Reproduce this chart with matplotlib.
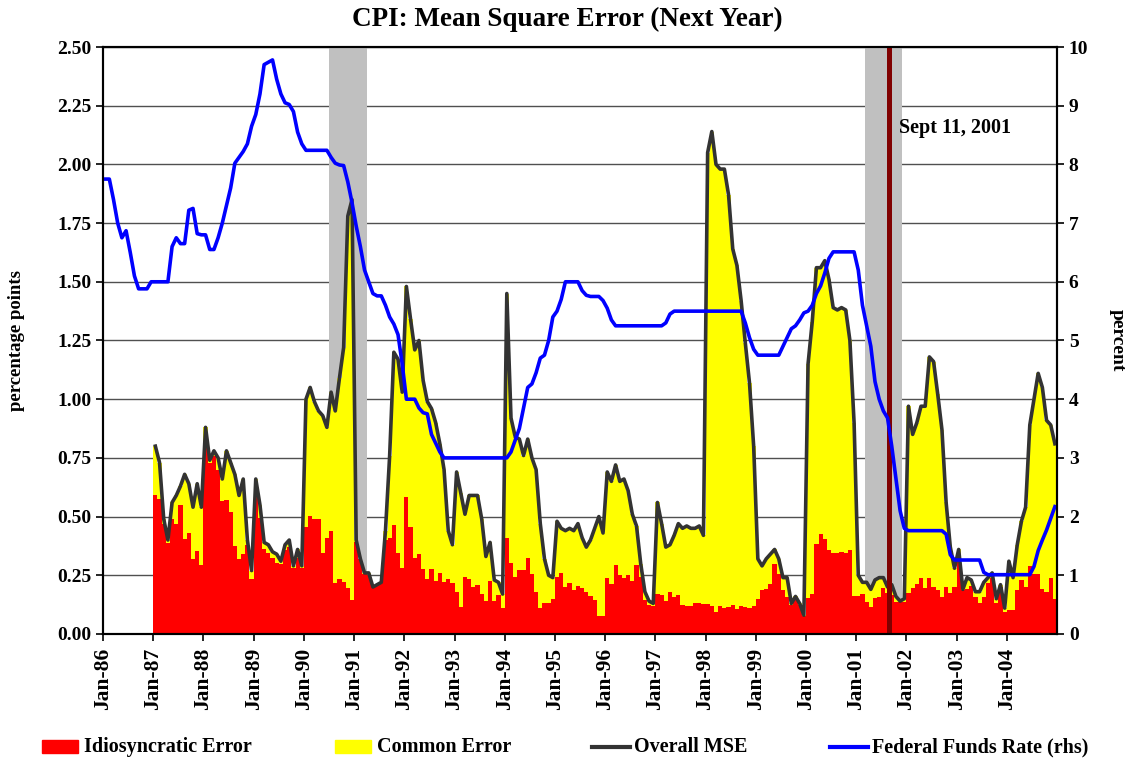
import matplotlib.pyplot as plt
from matplotlib.patches import Rectangle
from matplotlib.lines import Line2D
import numpy as np

plt.rcParams['font.family'] = ['Liberation Serif', 'DejaVu Serif']
plt.rcParams['font.weight'] = 'bold'

##====================== data =============
tick_labels = ['Jan-86', 'Jan-87', 'Jan-88', 'Jan-89', 'Jan-90', 'Jan-91', 'Jan-92',
               'Jan-93', 'Jan-94', 'Jan-95', 'Jan-96', 'Jan-97', 'Jan-98', 'Jan-99',
               'Jan-00', 'Jan-01', 'Jan-02', 'Jan-03', 'Jan-04']

# monthly, Jan-86 .. Dec-04 (percent, rhs)
fed_funds = [
    7.75, 7.75, 7.40, 7.00, 6.75, 6.87, 6.50, 6.10, 5.88, 5.88, 5.88, 6.00,   # 1986
    6.00, 6.00, 6.00, 6.00, 6.60, 6.75, 6.65, 6.65, 7.22, 7.25, 6.82, 6.80,   # 1987
    6.80, 6.55, 6.55, 6.75, 7.00, 7.30, 7.60, 8.02, 8.12, 8.22, 8.35, 8.65,   # 1988
    8.85, 9.20, 9.70, 9.74, 9.78, 9.45, 9.20, 9.05, 9.02, 8.90, 8.55, 8.35,   # 1989
    8.24, 8.24, 8.24, 8.24, 8.24, 8.24, 8.12, 8.02, 7.99, 7.98, 7.70, 7.35,   # 1990
    6.95, 6.60, 6.20, 6.00, 5.80, 5.76, 5.76, 5.60, 5.40, 5.28, 5.10, 4.60,   # 1991
    4.00, 4.00, 4.00, 3.85, 3.77, 3.75, 3.40, 3.25, 3.10, 3.00, 3.00, 3.00,   # 1992
    3.00, 3.00, 3.00, 3.00, 3.00, 3.00, 3.00, 3.00, 3.00, 3.00, 3.00, 3.00,   # 1993
    3.00, 3.10, 3.30, 3.50, 3.85, 4.20, 4.26, 4.45, 4.70, 4.75, 5.00, 5.40,   # 1994
    5.50, 5.70, 6.00, 6.00, 6.00, 6.00, 5.85, 5.77, 5.75, 5.75, 5.75, 5.68,   # 1995
    5.55, 5.35, 5.25, 5.25, 5.25, 5.25, 5.25, 5.25, 5.25, 5.25, 5.25, 5.25,   # 1996
    5.25, 5.25, 5.30, 5.45, 5.50, 5.50, 5.50, 5.50, 5.50, 5.50, 5.50, 5.50,   # 1997
    5.50, 5.50, 5.50, 5.50, 5.50, 5.50, 5.50, 5.50, 5.50, 5.30, 5.05, 4.85,   # 1998
    4.75, 4.75, 4.75, 4.75, 4.75, 4.75, 4.90, 5.05, 5.20, 5.25, 5.35, 5.47,   # 1999
    5.50, 5.60, 5.80, 5.93, 6.15, 6.40, 6.51, 6.51, 6.51, 6.51, 6.51, 6.51,   # 2000
    6.20, 5.60, 5.25, 4.90, 4.30, 4.00, 3.80, 3.68, 3.20, 2.65, 2.10, 1.80,   # 2001
    1.76, 1.76, 1.76, 1.76, 1.76, 1.76, 1.76, 1.76, 1.76, 1.70, 1.35, 1.26,   # 2002
    1.26, 1.26, 1.26, 1.26, 1.26, 1.26, 1.05, 1.01, 1.01, 1.01, 1.01, 1.01,   # 2003
    1.01, 1.01, 1.01, 1.01, 1.01, 1.01, 1.15, 1.42, 1.60, 1.77, 1.97, 2.17,   # 2004
]

# monthly, Jan-87 .. Dec-04 (percentage points)
mse_total = [
    0.80, 0.73, 0.49, 0.40, 0.56, 0.59, 0.63, 0.68, 0.64, 0.54, 0.64, 0.54,   # 1987
    0.88, 0.74, 0.78, 0.75, 0.66, 0.78, 0.73, 0.68, 0.59, 0.66, 0.40, 0.27,   # 1988
    0.66, 0.55, 0.39, 0.38, 0.35, 0.34, 0.31, 0.38, 0.40, 0.29, 0.36, 0.29,   # 1989
    1.00, 1.05, 0.99, 0.95, 0.93, 0.88, 1.03, 0.95, 1.09, 1.22, 1.78, 1.85,   # 1990
    0.40, 0.32, 0.26, 0.26, 0.20, 0.21, 0.22, 0.44, 0.76, 1.20, 1.17, 1.03,   # 1991
    1.48, 1.34, 1.21, 1.25, 1.08, 0.99, 0.96, 0.90, 0.81, 0.70, 0.44, 0.38,   # 1992
    0.69, 0.60, 0.51, 0.59, 0.59, 0.59, 0.49, 0.33, 0.39, 0.23, 0.22, 0.17,   # 1993
    1.45, 0.92, 0.84, 0.83, 0.76, 0.83, 0.75, 0.70, 0.47, 0.32, 0.25, 0.24,   # 1994
    0.48, 0.45, 0.44, 0.45, 0.44, 0.47, 0.41, 0.37, 0.40, 0.45, 0.50, 0.43,   # 1995
    0.69, 0.65, 0.72, 0.65, 0.66, 0.61, 0.51, 0.46, 0.30, 0.18, 0.14, 0.13,   # 1996
    0.56, 0.47, 0.37, 0.38, 0.42, 0.47, 0.45, 0.46, 0.45, 0.45, 0.46, 0.42,   # 1997
    2.05, 2.14, 2.00, 1.98, 1.98, 1.87, 1.64, 1.57, 1.42, 1.24, 1.07, 0.80,   # 1998
    0.32, 0.29, 0.32, 0.34, 0.36, 0.32, 0.24, 0.24, 0.13, 0.16, 0.13, 0.08,   # 1999
    1.15, 1.33, 1.56, 1.56, 1.59, 1.51, 1.39, 1.38, 1.39, 1.38, 1.25, 0.90,   # 2000
    0.25, 0.22, 0.22, 0.19, 0.23, 0.24, 0.24, 0.20, 0.21, 0.16, 0.14, 0.15,   # 2001
    0.97, 0.85, 0.90, 0.97, 0.97, 1.18, 1.16, 1.02, 0.87, 0.56, 0.37, 0.28,   # 2002
    0.36, 0.19, 0.24, 0.23, 0.18, 0.18, 0.22, 0.24, 0.26, 0.15, 0.21, 0.11,   # 2003
    0.31, 0.24, 0.38, 0.48, 0.54, 0.89, 1.00, 1.11, 1.05, 0.91, 0.89, 0.81,   # 2004
]

idio_err = [
    0.59, 0.575, 0.47, 0.386, 0.49, 0.47, 0.55, 0.405, 0.43, 0.32, 0.354, 0.294,      # 1987
    0.80, 0.73, 0.76, 0.70, 0.567, 0.571, 0.518, 0.375, 0.32, 0.341, 0.379, 0.233,    # 1988
    0.635, 0.493, 0.361, 0.344, 0.322, 0.304, 0.30, 0.358, 0.372, 0.28, 0.322, 0.28,  # 1989
    0.457, 0.503, 0.489, 0.49, 0.347, 0.41, 0.439, 0.216, 0.234, 0.22, 0.195, 0.145, # 1990
    0.39, 0.32, 0.255, 0.25, 0.199, 0.209, 0.216, 0.40, 0.408, 0.464, 0.347, 0.283,  # 1991
    0.585, 0.457, 0.322, 0.341, 0.276, 0.233, 0.277, 0.227, 0.259, 0.223, 0.233, 0.219, # 1992
    0.18, 0.116, 0.241, 0.233, 0.199, 0.209, 0.17, 0.142, 0.227, 0.142, 0.166, 0.112, # 1993
    0.408, 0.301, 0.241, 0.273, 0.273, 0.322, 0.254, 0.18, 0.109, 0.131, 0.131, 0.148, # 1994
    0.244, 0.259, 0.202, 0.219, 0.188, 0.205, 0.195, 0.18, 0.162, 0.145, 0.077, 0.077, # 1995
    0.237, 0.213, 0.294, 0.251, 0.237, 0.251, 0.227, 0.294, 0.244, 0.145, 0.125, 0.12, # 1996
    0.169, 0.166, 0.142, 0.178, 0.159, 0.166, 0.124, 0.121, 0.121, 0.131, 0.131, 0.128, # 1997
    0.128, 0.121, 0.095, 0.119, 0.109, 0.114, 0.124, 0.105, 0.119, 0.116, 0.109, 0.12,  # 1998
    0.148, 0.188, 0.192, 0.213, 0.297, 0.254, 0.188, 0.159, 0.125, 0.148, 0.124, 0.078, # 1999
    0.152, 0.17, 0.384, 0.426, 0.403, 0.358, 0.347, 0.347, 0.351, 0.347, 0.358, 0.163,  # 2000
    0.163, 0.17, 0.138, 0.116, 0.152, 0.159, 0.195, 0.173, 0.166, 0.138, 0.138, 0.138,  # 2001
    0.173, 0.195, 0.213, 0.237, 0.195, 0.237, 0.199, 0.188, 0.156, 0.199, 0.173, 0.199, # 2002
    0.31, 0.188, 0.19, 0.205, 0.159, 0.131, 0.159, 0.216, 0.237, 0.13, 0.199, 0.095,    # 2003
    0.102, 0.102, 0.188, 0.23, 0.199, 0.29, 0.256, 0.256, 0.19, 0.18, 0.237, 0.148,    # 2004
]

recessions = [((1990, 7), (1991, 3)), ((2001, 3), (2001, 11))]
sept11 = (2001, 9, 11)


def month_index(year, month):
    return (year - 1986) * 12 + (month - 1)


##====================== figure =============
fig, ax = plt.subplots(figsize=(11.3, 7.63), dpi=100)
fig.subplots_adjust(left=0.0912, right=0.9354, top=0.9384, bottom=0.1691)

x_ffr = np.arange(len(fed_funds))
x_mse = np.arange(12, 12 + len(mse_total))
total = np.array(mse_total)
idio = np.array(idio_err)
common = total - idio

for start, end in recessions:
    ax.axvspan(month_index(*start), month_index(*end) + 1, color='#C0C0C0', lw=0, zorder=1)

ax.bar(x_mse, idio, width=1, align='edge', color='#FF0000', lw=0, zorder=2)
ax.bar(x_mse, common, bottom=idio, width=1, align='edge', color='#FFFF00', lw=0, zorder=2)
ax.plot(x_mse + 0.5, total, color='#333333', lw=2.6, zorder=4)

s11 = month_index(sept11[0], sept11[1]) + (sept11[2] - 1) / 30
ax.axvline(s11 - 0.6, color='#800000', lw=3.6, zorder=5)
ax.text(s11 + 2.0, 2.155, 'Sept 11, 2001', fontsize=14.5, fontweight='bold', va='center', zorder=6)

ax.set_xlim(0, 228)
ax.set_ylim(0, 2.5)
yt = np.arange(0, 2.51, 0.25)
ax.set_yticks(yt)
ax.set_yticklabels([f'{v:.2f}' for v in yt])
ax.set_xticks(np.arange(0, 12 * len(tick_labels), 12))
ax.set_xticklabels(tick_labels, rotation=90)
ax.tick_params(axis='both', direction='out', length=5, width=1.2)
ax.tick_params(axis='y', labelsize=14)
ax.tick_params(axis='x', labelsize=15.5, pad=5)
ax.yaxis.grid(True, color='#505050', lw=1.0)
ax.set_axisbelow(True)
for sp in ax.spines.values():
    sp.set_linewidth(1.5)
ax.set_ylabel('percentage points', fontsize=13.5, fontweight='bold')
ax.yaxis.set_label_coords(-0.082, 0.5)

ax2 = ax.twinx()
ax2.plot(x_ffr + 0.5, fed_funds, color='#0000FF', lw=2.6)
ax2.set_ylim(0, 10)
ax2.set_yticks(range(0, 11))
ax2.tick_params(axis='y', direction='out', length=5, width=1.2, labelsize=14)
ax2.set_ylabel('percent', fontsize=14, fontweight='bold', rotation=270)
ax2.yaxis.set_label_coords(1.072, 0.5)
for sp in ax2.spines.values():
    sp.set_linewidth(1.5)

fig.text(0.502, 0.975, 'CPI: Mean Square Error (Next Year)', ha='center', va='center',
         fontsize=19.5, fontweight='bold')

# legend, laid out by hand like the original
W, H = 1130, 763
ly = 1 - 747 / H
legend_items = [('box', '#FF0000', 42, 'Idiosyncratic Error'),
                ('box', '#FFFF00', 335, 'Common Error'),
                ('line', '#333333', 592, 'Overall MSE'),
                ('line', '#0000FF', 830, 'Federal Funds Rate (rhs)')]
for kind, col, x0, txt in legend_items:
    if kind == 'box':
        fig.patches.append(Rectangle((x0 / W, 1 - 753 / H), 36 / W, 13 / H, color=col,
                                     transform=fig.transFigure, figure=fig))
    else:
        fig.lines.append(Line2D([x0 / W, (x0 + 38) / W], [ly, ly], color=col, lw=3,
                                transform=fig.transFigure, figure=fig))
    fig.text((x0 + 42) / W, ly, txt, ha='left', va='center', fontsize=14.5, fontweight='bold')

plt.savefig('out.png', dpi=100)
